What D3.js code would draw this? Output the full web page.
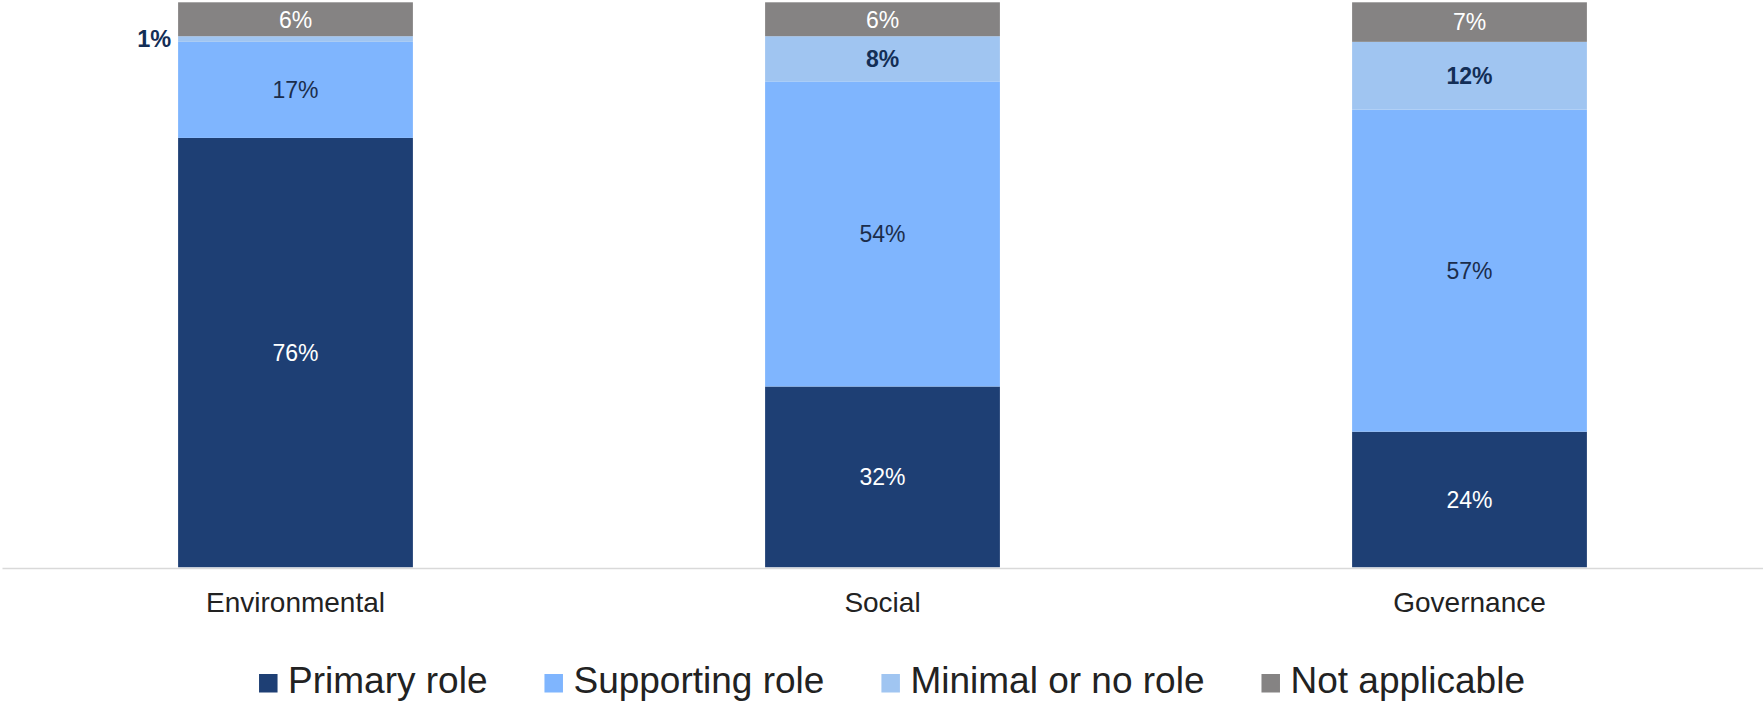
<!DOCTYPE html>
<html>
<head>
<meta charset="utf-8">
<script src="https://cdn.jsdelivr.net/npm/d3@7"></script>
<style>
  html, body { margin: 0; padding: 0; background: #fff; }
  svg { display: block; font-family: "Liberation Sans", Arial, sans-serif; }
</style>
</head>
<body>
<svg id="chart" width="1763" height="706"></svg>
<script>
// Role of each ESG pillar, share of respondents (%)
const categories = ["Environmental", "Social", "Governance"];
const seriesNames = ["Primary role", "Supporting role", "Minimal or no role", "Not applicable"];
const primaryRole = [76, 32, 24];
const supportingRole = [17, 54, 57];
const minimalRole = [1, 8, 12];
const notApplicable = [6, 6, 7];

const seriesValues = [primaryRole, supportingRole, minimalRole, notApplicable];
const colors = ["#1E3F74", "#7FB5FE", "#A0C5F1", "#858383"];
const labelColors = ["#ffffff", "#1B2D4B", "#132E56", "#ffffff"];
const labelWeights = ["normal", "normal", "bold", "normal"];

const W = 1763, H = 706;
const svg = d3.select("#chart");

const table = categories.map((c, i) => {
  const row = { category: c };
  seriesNames.forEach((s, k) => { row[s] = seriesValues[k][i]; });
  return row;
});

const stacked = d3.stack().keys(seriesNames)(table);

const x = d3.scaleBand().domain(categories).range([2, W]).paddingInner(0.6).paddingOuter(0.3);
const y = d3.scaleLinear().domain([0, 100]).range([567.3, 2.3]);

// bars
const layers = svg.append("g").selectAll("g")
  .data(stacked)
  .join("g")
  .attr("fill", (d, k) => colors[k]);

layers.selectAll("rect")
  .data(d => d.map(p => ({ p, key: d.key })))
  .join("rect")
  .attr("x", d => x(d.p.data.category))
  .attr("width", x.bandwidth())
  .attr("y", d => y(d.p[1]))
  .attr("height", d => y(d.p[0]) - y(d.p[1]));

// baseline axis
const axis = svg.append("g").attr("transform", `translate(0,${y(0) + 0.7})`)
  .call(d3.axisBottom(x).tickSize(0).tickPadding(0));
axis.select(".domain").attr("stroke", "#D9D9D9").attr("stroke-width", 1.6);
axis.selectAll(".tick text")
  .attr("y", 44)
  .attr("dy", 0)
  .attr("fill", "#222")
  .style("font-family", "'Liberation Sans', Arial, sans-serif")
  .style("font-size", "28px");

// value labels
stacked.forEach((layer, k) => {
  layer.forEach(p => {
    const v = p[1] - p[0];
    const cx = x(p.data.category) + x.bandwidth() / 2;
    const cy = (y(p[0]) + y(p[1])) / 2;
    const small = (y(p[0]) - y(p[1])) < 20;
    svg.append("text")
      .attr("x", small ? x(p.data.category) - 7 : cx)
      .attr("y", cy)
      .attr("dy", "0.36em")
      .attr("text-anchor", small ? "end" : "middle")
      .attr("fill", small ? "#132E56" : labelColors[k])
      .attr("font-weight", small ? "bold" : labelWeights[k])
      .style("font-size", small ? "23.5px" : "23px")
      .text(v + "%");
  });
});

// legend
const legend = svg.append("g");
const items = legend.selectAll("g").data(seriesNames).join("g");
items.append("rect")
  .attr("width", 18.5).attr("height", 18.5)
  .attr("y", 674)
  .attr("fill", (d, k) => colors[k]);
items.append("text")
  .attr("x", 29)
  .attr("y", 692.7)
  .attr("fill", "#222")
  .style("font-size", "37px")
  .text(d => d);

let offset = 0;
const gap = 57;
items.each(function () {
  const g = d3.select(this);
  g.attr("transform", `translate(${offset},0)`);
  offset += 29 + g.select("text").node().getComputedTextLength() + gap;
});
const total = offset - gap;
legend.attr("transform", `translate(${892 - total / 2},0)`);
</script>
</body>
</html>
